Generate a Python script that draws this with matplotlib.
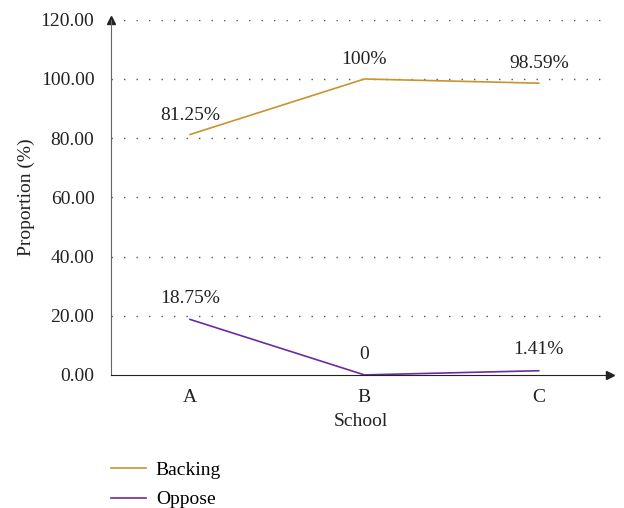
import matplotlib.pyplot as plt
import numpy as np

schools = ['A', 'B', 'C']
backing = [81.25, 100, 98.59]
oppose = [18.75, 0, 1.41]
backing_labels = ['81.25%', '100%', '98.59%']
oppose_labels = ['18.75%', '0', '1.41%']
yticks = [0, 20, 40, 60, 80, 100, 120]

plt.rcParams['font.family'] = ['Liberation Serif', 'DejaVu Serif']

fig = plt.figure(figsize=(6.24, 5.08), dpi=100)
ax = fig.add_axes([0.178, 0.262, 0.80, 0.699])

x = np.arange(len(schools))
gold = '#c8952c'
purple = '#6a2ca0'
l1, = ax.plot(x, backing, color=gold, lw=1.2, label='Backing')
l2, = ax.plot(x, oppose, color=purple, lw=1.2, label='Oppose')

for xi, v, s in zip(x, backing, backing_labels):
    ax.annotate(s, (xi, v), xytext=(0, 14), textcoords='offset points',
                ha='center', va='center', fontsize=14, color='#222222')
for xi, v, s in zip(x, oppose, oppose_labels):
    ax.annotate(s, (xi, v), xytext=(0, 15), textcoords='offset points',
                ha='center', va='center', fontsize=14, color='#222222')

ax.set_xlim(-0.453, 2.41)
ax.set_ylim(0, 120)
ax.set_xticks(x)
ax.set_xticklabels(schools)
ax.set_yticks(yticks)
ax.set_yticklabels(['%.2f' % t for t in yticks])
ax.tick_params(length=0, labelsize=14, colors='#222222')
ax.tick_params(axis='y', pad=12)
ax.tick_params(axis='x', pad=10)

# dotted horizontal gridlines
for t in yticks[1:]:
    ax.axhline(t, color='#555555', lw=1.0, ls=(0, (1, 8)), zorder=0)

for side in ['top', 'right']:
    ax.spines[side].set_visible(False)
ax.spines['left'].set_color('#666666')
ax.spines['bottom'].set_color('#222222')

# arrow heads on both axes
ax.plot(1, 0, '>', color='#222222', ms=6, transform=ax.transAxes, clip_on=False)
ax.plot(0, 1, '^', color='#222222', ms=6, transform=ax.transAxes, clip_on=False)

ax.set_xlabel('School', fontsize=14, color='#222222', labelpad=5)
ax.set_ylabel('Proportion (%)', fontsize=14, color='#222222', labelpad=4)

fig.legend(handles=[l1, l2], loc='upper left', bbox_to_anchor=(0.15, 0.126),
           frameon=False, fontsize=14, handlelength=1.8, handletextpad=0.5,
           labelspacing=0.6)

fig.savefig('out.png', dpi=100)
